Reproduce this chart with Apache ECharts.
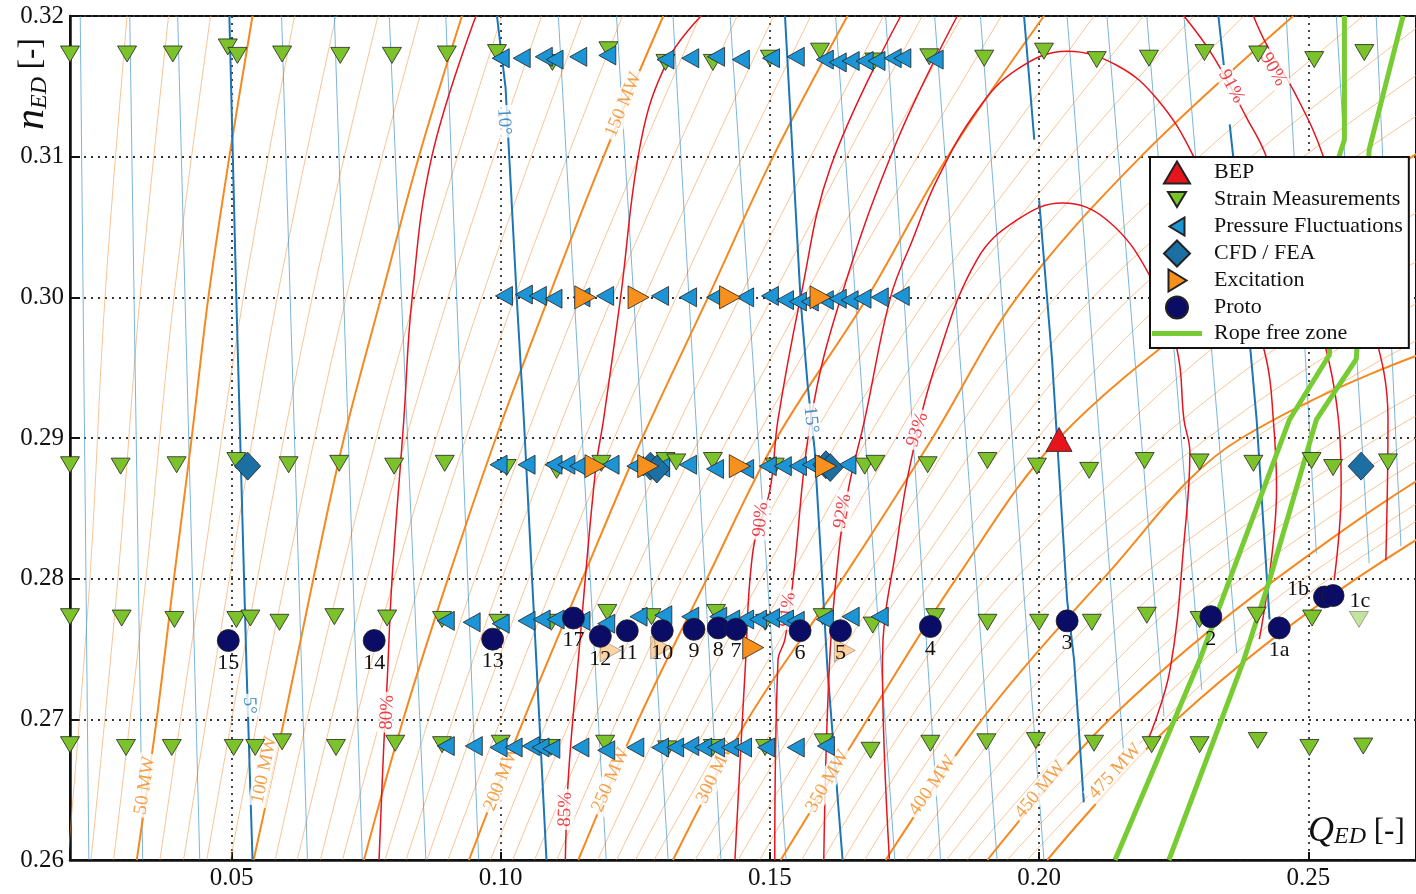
<!DOCTYPE html>
<html><head><meta charset="utf-8">
<script src="https://cdn.jsdelivr.net/npm/echarts@6/dist/echarts.min.js"></script>
<style>html,body{margin:0;padding:0;background:#fff}#c{width:1416px;height:894px}</style>
</head><body><div id="c"></div>
<script>
// ---------- axes ----------
const xTicks = [0.05, 0.10, 0.15, 0.20, 0.25];
const yTicks = [0.26, 0.27, 0.28, 0.29, 0.30, 0.31, 0.32];
const nLevels = [0.26, 0.27, 0.28, 0.29, 0.30, 0.31, 0.32];
const nLevelsThin = [0.26, 0.28, 0.30, 0.32];

// ---------- markers ----------
const strainQ = [
0.0200,0.0306,0.0391,0.0493,0.0511,0.0594,0.0702,0.0798,0.0900,0.0993,0.1096,0.1200,0.1306,0.1394,0.1500,0.1593,0.1694,0.1796,0.1898,0.2009,0.2107,0.2204,0.2307,0.2407,0.2511,0.2604,
0.0200,0.0294,0.0398,0.0509,0.0606,0.0700,0.0802,0.0896,0.1011,0.1104,0.1187,0.1306,0.1326,0.1394,0.1509,0.1676,0.1696,0.1793,0.1904,0.1996,0.2093,0.2196,0.2298,0.2398,0.2506,0.2546,0.2648,
0.0200,0.0296,0.0394,0.0509,0.0535,0.0589,0.0691,0.0789,0.0891,0.0996,0.1094,0.1198,0.1280,0.1400,0.1491,0.1598,0.1691,0.1807,0.1904,0.2000,0.2098,0.2200,0.2298,0.2404,0.2507,
0.0200,0.0304,0.0389,0.0504,0.0544,0.0594,0.0694,0.0804,0.0891,0.1000,0.1093,0.1194,0.1309,0.1394,0.1491,0.1600,0.1687,0.1798,0.1902,0.1994,0.2102,0.2209,0.2298,0.2406,0.2502,0.2602];
const strainN = [
0.3173,0.3173,0.3173,0.3178,0.3172,0.3173,0.3172,0.3172,0.3173,0.3174,0.3167,0.3176,0.3167,0.3167,0.3170,0.3175,0.3168,0.3171,0.3170,0.3175,0.3169,0.3170,0.3174,0.3173,0.3169,0.3174,
0.2881,0.2880,0.2881,0.2884,0.2881,0.2882,0.2880,0.2882,0.2879,0.2877,0.2882,0.2884,0.2883,0.2884,0.2880,0.2880,0.2882,0.2881,0.2884,0.2880,0.2877,0.2884,0.2883,0.2882,0.2884,0.2879,0.2883,
0.2773,0.2772,0.2771,0.2771,0.2772,0.2769,0.2773,0.2772,0.2771,0.2769,0.2769,0.2776,0.2773,0.2776,0.2769,0.2773,0.2767,0.2773,0.2769,0.2769,0.2769,0.2774,0.2771,0.2774,0.2772,
0.2682,0.2680,0.2680,0.2680,0.2680,0.2684,0.2680,0.2683,0.2682,0.2683,0.2680,0.2683,0.2679,0.2680,0.2680,0.2684,0.2678,0.2683,0.2684,0.2685,0.2683,0.2682,0.2682,0.2685,0.2680,0.2681];
const strainFadedQ = [0.2594];
const strainFadedN = [0.2771];

const pressQ = [
0.1000,0.1039,0.1080,0.1100,0.1144,0.1198,0.1306,0.1352,0.1400,0.1446,0.1502,0.1548,0.1602,0.1626,0.1650,0.1676,0.1698,0.1728,0.1746,0.1806,
0.1006,0.1043,0.1069,0.1098,0.1150,0.1194,0.1296,0.1348,0.1398,0.1454,0.1500,0.1528,0.1552,0.1574,0.1602,0.1626,0.1648,0.1672,0.1704,0.1743,
0.0996,0.1048,0.1098,0.1122,0.1144,0.1204,0.1250,0.1280,0.1298,0.1348,0.1398,0.1454,0.1496,0.1524,0.1552,0.1576,0.1644,
0.0898,0.0946,0.1000,0.1048,0.1076,0.1102,0.1150,0.1196,0.1256,0.1302,0.1352,0.1404,0.1428,0.1454,0.1478,0.1502,0.1528,0.1548,0.1602,0.1650,0.1704,
0.0898,0.0950,0.0996,0.1024,0.1056,0.1074,0.1094,0.1148,0.1196,0.1250,0.1296,0.1324,0.1352,0.1376,0.1400,0.1426,0.1450,0.1493,0.1548,0.1604];
const pressN = [
0.3170,0.3170,0.3171,0.3169,0.3171,0.3172,0.3169,0.3170,0.3171,0.3169,0.3170,0.3171,0.3169,0.3167,0.3168,0.3168,0.3168,0.3170,0.3170,0.3169,
0.3001,0.3002,0.3001,0.2999,0.3000,0.3001,0.3001,0.3000,0.3000,0.3000,0.3001,0.2998,0.2997,0.2997,0.2998,0.2999,0.2998,0.2999,0.3000,0.3001,
0.2881,0.2881,0.2881,0.2881,0.2880,0.2881,0.2880,0.2878,0.2879,0.2881,0.2878,0.2878,0.2880,0.2880,0.2880,0.2881,0.2881,
0.2770,0.2769,0.2768,0.2770,0.2771,0.2771,0.2770,0.2768,0.2773,0.2774,0.2773,0.2773,0.2771,0.2771,0.2771,0.2772,0.2771,0.2770,0.2771,0.2773,0.2773,
0.2681,0.2681,0.2680,0.2680,0.2681,0.2680,0.2679,0.2680,0.2678,0.2680,0.2680,0.2680,0.2681,0.2680,0.2680,0.2680,0.2680,0.2680,0.2680,0.2681];

const cfdQ = [0.0530, 0.1278, 0.1290, 0.1604, 0.1612, 0.2598];
const cfdN = [0.2880, 0.2880, 0.2878, 0.2881, 0.2879, 0.2880];

const excQ = [0.1157, 0.1256, 0.1426, 0.1594, 0.1176, 0.1274, 0.1444, 0.1604, 0.1469];
const excN = [0.3000, 0.3000, 0.3000, 0.3000, 0.2880, 0.2880, 0.2880, 0.2880, 0.2751];
const excFadedQ = [0.1204, 0.1298, 0.1639];
const excFadedN = [0.2749, 0.2751, 0.2749];

const protoLabels = ['15','14','13','17','12','11','10','9','8','7','6','5','4','3','2','1a','1b','1c'];
const protoQ = [0.0494,0.0765,0.0985,0.1135,0.1185,0.1235,0.1300,0.1359,0.1404,0.1437,0.1556,0.1631,0.1798,0.2052,0.2319,0.2446,0.2530,0.2546];
const protoN = [0.2756,0.2756,0.2757,0.2772,0.2759,0.2763,0.2763,0.2764,0.2765,0.2764,0.2763,0.2763,0.2766,0.2770,0.2773,0.2765,0.2787,0.2788];

const bepQ = [0.2037];
const bepN = [0.2899];

// ---------- power (MW) contours ----------
const mwLevels = [50, 100, 150, 200, 250, 300, 350, 400, 450, 475];
const mwAt026 = [0.0324,0.0541,0.0746,0.0941,0.1144,0.1320,0.1520,0.1715,0.1904,0.2015];
const mwAt027 = [0.0361,0.0598,0.0819,0.1043,0.1256,0.1459,0.1681,0.1894,0.2131,0.2256];
const mwAt028 = [0.0393,0.0652,0.0902,0.1152,0.1383,0.1635,0.1846,0.2119,0.2441,0.2589];
const mwAt029 = [0.0426,0.0709,0.0991,0.1263,0.1513,0.1802,0.2037,0.2376,0.2837,0.3033];
const mwAt030 = [0.0457,0.0778,0.1089,0.1385,0.1681,0.1959,0.2346,0.2996,0.3404,0.3589];
const mwAt031 = [0.0496,0.0848,0.1191,0.1506,0.1830,0.2189,0.2693,0.3774,0.4144,0.4330];
const mwAt032 = [0.0539,0.0928,0.1302,0.1644,0.2009,0.2472,0.3126,0.4515,0.4885,0.5070];

const hatchMW  = [20,30,40,60,70,80,90,110,120,130,140,160,170,180,190,210,220,230,240,260,270,280,290,310,320,330,340,360,370,380,390,410,420,430,440,460,470];
const hatchQ026 = [0.0196,0.0239,0.0281,0.0367,0.0411,0.0454,0.0498,0.0581,0.0622,0.0665,0.0706,0.0785,0.0824,0.0863,0.0902,0.0981,0.1022,0.1063,0.1104,0.1180,0.1215,0.1250,0.1285,0.1361,0.1400,0.1441,0.1481,0.1559,0.1598,0.1637,0.1676,0.1752,0.1791,0.1828,0.1867,0.1941,0.1978];
const hatchQ028 = [0.0237,0.0289,0.0341,0.0444,0.0496,0.0548,0.0600,0.0702,0.0752,0.0802,0.0852,0.0952,0.1002,0.1052,0.1102,0.1198,0.1244,0.1291,0.1337,0.1433,0.1483,0.1535,0.1585,0.1678,0.1720,0.1761,0.1804,0.1900,0.1956,0.2009,0.2065,0.2183,0.2248,0.2311,0.2376,0.2491,0.2539];
const hatchQ030 = [0.0265,0.0330,0.0393,0.0522,0.0585,0.0650,0.0713,0.0841,0.0902,0.0965,0.1026,0.1148,0.1207,0.1267,0.1326,0.1444,0.1504,0.1563,0.1622,0.1737,0.1793,0.1848,0.1904,0.2030,0.2100,0.2170,0.2241,0.2448,0.2585,0.2722,0.2859,0.3078,0.3159,0.3241,0.3322,0.3465,0.3526];
const hatchQ032 = [0.0306,0.0383,0.0461,0.0617,0.0694,0.0772,0.0850,0.1002,0.1076,0.1152,0.1226,0.1370,0.1439,0.1507,0.1576,0.1711,0.1783,0.1857,0.1930,0.2102,0.2194,0.2287,0.2380,0.2602,0.2731,0.2861,0.2991,0.3404,0.3681,0.3959,0.4237,0.4700,0.4885,0.5070,0.5256,0.5441,0.5626];

// ---------- guide vane opening lines ----------
const gvThinTopQ = [0.0219,0.0311,0.0400,0.0593,0.0691,0.0793,0.0898,0.1107,0.1215,0.1320,0.1426,0.1622,0.1715,0.1806,0.1891,0.2052,0.2126,0.2200,0.2269,0.2459,0.2552,0.2626];
const gvThinEndQ = [0.0235,0.0335,0.0441,0.0641,0.0743,0.0861,0.0959,0.1196,0.1311,0.1409,0.1530,0.1732,0.1817,0.1922,0.2009,0.2157,0.2232,0.2302,0.2367,0.2515,0.2613,0.2672];
const gvThinEndN = [0.26,0.26,0.26,0.26,0.26,0.26,0.26,0.26,0.26,0.26,0.26,0.26,0.26,0.26,0.26,0.2676,0.2702,0.2721,0.2747,0.2818,0.2811,0.2823];

const gv5  = [[0.0496,0.32],[0.0509,0.2998],[0.0528,0.2735],[0.0539,0.26]];
const gv10 = [[0.0993,0.32],[0.1009,0.3149],[0.1030,0.2998],[0.1043,0.2913],[0.1067,0.2735],[0.1085,0.26]];
const gv15 = [[0.1528,0.32],[0.1557,0.2998],[0.1570,0.2938],[0.1583,0.2892],[0.1607,0.2735],[0.1635,0.26]];
const gv20a = [[0.1972,0.32],[0.1991,0.3112]];
const gv20b = [[0.2000,0.3069],[0.2024,0.2956],[0.2052,0.2785],[0.2065,0.2742],[0.2083,0.2641]];
const gv25a = [[0.2333,0.32],[0.2343,0.3165]];
const gv25b = [[0.2354,0.3123],[0.2361,0.3098],[0.2404,0.2913],[0.2428,0.2771]];

// ---------- efficiency contours ----------
const eff80 = [[0.0774,0.26],[0.0783,0.2683],[0.0789,0.2726],[0.0798,0.2799],[0.0820,0.2913],[0.0835,0.2998],[0.0872,0.31],[0.0954,0.32]];
const eff85 = [[0.1120,0.26],[0.1126,0.2661],[0.1144,0.2742],[0.1176,0.2877],[0.1191,0.2913],[0.1222,0.2998],[0.1261,0.3112],[0.1311,0.3169],[0.1372,0.3200]];
const eff90a = [[0.1435,0.26],[0.1454,0.2735],[0.1469,0.2821],[0.1500,0.2863],[0.1515,0.2913],[0.1557,0.3000],[0.1613,0.3093],[0.1743,0.3200]];
const eff90b = [[0.2398,0.32],[0.2422,0.3180],[0.2478,0.3143],[0.2528,0.31],[0.2607,0.2998],[0.2648,0.2913],[0.2644,0.2813]];
const eff91a = [[0.1509,0.26],[0.1515,0.2742],[0.1528,0.2757],[0.1543,0.2799],[0.1576,0.2913],[0.1632,0.3000],[0.1737,0.3112],[0.1848,0.32]];
const eff91b = [[0.2269,0.32],[0.2324,0.3171],[0.2385,0.3128],[0.2422,0.31],[0.2496,0.3013],[0.2556,0.2913],[0.2561,0.2865],[0.2548,0.2799]];
const eff92 = [[0.1600,0.26],[0.1611,0.2742],[0.1630,0.2826],[0.1648,0.2868],[0.1676,0.2913],[0.1724,0.3000],[0.1765,0.3041],[0.1811,0.3084],[0.1885,0.3133],[0.1959,0.3162],[0.2052,0.3175],[0.2144,0.3165],[0.2219,0.3141],[0.2287,0.31],[0.2367,0.3027],[0.2422,0.2956],[0.2435,0.2913],[0.2441,0.2865],[0.2409,0.2757]];
const eff93 = [[0.1722,0.26],[0.1709,0.2742],[0.1737,0.2828],[0.1761,0.2882],[0.1811,0.2956],[0.1885,0.3027],[0.1959,0.3055],[0.2043,0.3067],[0.2126,0.3055],[0.2206,0.3015],[0.2256,0.2963],[0.2269,0.2913],[0.2280,0.2890],[0.2270,0.2830],[0.2243,0.2735],[0.2204,0.2687]];

// ---------- rope free zone ----------
const rope1 = [[0.2141,0.26],[0.2298,0.2742],[0.2335,0.2780],[0.2465,0.2913],[0.2539,0.2959],[0.2557,0.31],[0.2567,0.3112],[0.2567,0.32]];
const rope2 = [[0.2241,0.26],[0.2380,0.2742],[0.2428,0.2799],[0.2515,0.2913],[0.2589,0.2956],[0.2613,0.3105],[0.2676,0.32]];

// ---------- in-line labels ----------
const lblText = ['50 MW','100 MW','150 MW','200 MW','250 MW','300 MW','350 MW','400 MW','450 MW','475 MW','80%','85%','90%','91%','92%','93%','91%','90%','5°','10°','15°'];
const lblQ = [0.0339,0.0561,0.1228,0.1002,0.1204,0.1400,0.1607,0.1802,0.2002,0.2141,0.0789,0.1120,0.1483,0.1533,0.1635,0.1774,0.2357,0.2435,0.0533,0.1006,0.1576];
const lblN = [0.2653,0.2664,0.3137,0.2658,0.2657,0.2663,0.2656,0.2653,0.2650,0.2663,0.2705,0.2636,0.2842,0.2778,0.2848,0.2906,0.3150,0.3162,0.2710,0.3125,0.2913];
const lblRot = [81,78,67,68,66,64,60,55,50,47,88,88,85,83,80,72,-61,-60,-88,-87,-84];
const lblKind = ['mw','mw','mw','mw','mw','mw','mw','mw','mw','mw','eff','eff','eff','eff','eff','eff','eff','eff','gv','gv','gv'];

// ---------- build ----------
const serif = 'Liberation Serif, Times New Roman, serif';
const C = {hatch:'rgba(242,152,70,0.72)', mw:'#f5891f', thinBlue:'rgba(60,145,200,0.85)', gv:'#1c75b5', red:'#e5141d', green:'#77cc33'};
const series = [];
function ln(data, color, width, z, smooth, name) {
  return {type:'line', name: name || undefined, data, symbol:'none', showSymbol:false, smooth: smooth || 0,
    lineStyle:{color, width}, itemStyle:{color}, z, silent:true, clip:true, animation:false, legendHoverLink:false};
}
const thinCols = [hatchQ026, hatchQ028, hatchQ030, hatchQ032];
hatchMW.forEach((mw, i) => {
  series.push(ln(nLevelsThin.map((n, k) => [thinCols[k][i], n]), C.hatch, 0.8, 1, 0.35));
});
gvThinTopQ.forEach((q, i) => {
  series.push(ln([[q, 0.32], [gvThinEndQ[i], gvThinEndN[i]]], C.thinBlue, 0.8, 2, 0));
});
const mwCols = [mwAt026, mwAt027, mwAt028, mwAt029, mwAt030, mwAt031, mwAt032];
mwLevels.forEach((mw, i) => {
  series.push(ln(nLevels.map((n, k) => [mwCols[k][i], n]), C.mw, 2, 3, 0.35));
});
[gv5, gv10, gv15, gv20a, gv20b, gv25a, gv25b].forEach(d => series.push(ln(d, C.gv, 2, 4, 0)));
[eff80, eff85, eff90a, eff90b, eff91a, eff91b, eff92, eff93].forEach(d => series.push(ln(d, C.red, 1.5, 5, 0.4)));
series.push(ln(rope1, C.green, 5, 6, 0, 'Rope free zone'));
series.push(ln(rope2, C.green, 5, 6, 0, 'Rope free zone'));

const lblColor = {mw:'#f08a1e', eff:'#e5141d', gv:'#1c75b5'};
series.push({type:'scatter', silent:true, z:7, symbolSize:1, itemStyle:{color:'rgba(0,0,0,0)'}, animation:false,
  data: lblText.map((t, i) => ({value:[lblQ[i], lblN[i]], label:{show:true, position:'inside', formatter:t, rotate:lblRot[i],
    color: lblColor[lblKind[i]], fontFamily: serif, fontSize: 19, backgroundColor:'#fff', padding:[0,3]}}))});

const border = {borderColor:'#222', borderWidth:0.8, opacity:1};
const triDown = 'path://M0,0 L20,0 L10,17 Z';
const triLeft = 'path://M17,0 L17,20 L0,10 Z';
const triRight = 'path://M0,0 L0,22 L20,11 Z';
const triUp = 'path://M13,0 L26,24 L0,24 Z';
const diamond = 'path://M13,0 L26,14 L13,28 L0,14 Z';
// legend icons drawn inside a fixed 27x27 box (the bare moves set the box)
const icoBEP = 'path://M0,0 M27,27 M0.5,24.5 L26.5,24.5 L13.5,2.5 Z';
const icoStrain = 'path://M0,0 M27,27 M4.5,6 L22.5,6 L13.5,21 Z';
const icoPress = 'path://M0,0 M27,27 M21,4.5 L21,22.5 L6,13.5 Z';
const icoCfd = 'path://M0,0 M27,27 M13.5,0.5 L26.5,13.5 L13.5,26.5 L0.5,13.5 Z';
const icoExc = 'path://M0,0 M27,27 M5,2.5 L5,24.5 L23,13.5 Z';
const icoProto = 'path://M0,0 M27,27 M2.5,13.5 A11,11 0 1 1 24.5,13.5 A11,11 0 1 1 2.5,13.5 Z';
const icoRope = 'path://M0,0 M50,27 M0,11 L50,11 L50,16 L0,16 Z';

series.push({type:'scatter', name:'Strain Measurements', symbol: triDown, symbolSize:[19,16], z:10, animation:false,
  itemStyle:Object.assign({color:'#7cc22a'}, border),
  data: strainQ.map((q, i) => [q, strainN[i]]).concat(strainFadedQ.map((q, i) => ({value:[q, strainFadedN[i]], itemStyle:{opacity:0.45}})))});
series.push({type:'scatter', name:'Pressure Fluctuations', symbol: triLeft, symbolSize:[17,19], z:11, animation:false,
  itemStyle:Object.assign({color:'#1b95d5'}, border),
  data: pressQ.map((q, i) => [q, pressN[i]])});
series.push({type:'scatter', name:'CFD / FEA', symbol: diamond, symbolSize:[26,28], z:12, animation:false,
  itemStyle:Object.assign({color:'#1b6fa3'}, border),
  data: cfdQ.map((q, i) => [q, cfdN[i]])});
series.push({type:'scatter', name:'Excitation', symbol: triRight, symbolSize:[21,23], z:13, animation:false,
  itemStyle:Object.assign({color:'#f7901c'}, border),
  data: excQ.map((q, i) => [q, excN[i]]).concat(excFadedQ.map((q, i) => ({value:[q, excFadedN[i]], itemStyle:{opacity:0.4}})))});
series.push({type:'scatter', name:'Proto', symbol:'circle', symbolSize:22, z:14, animation:false,
  itemStyle:Object.assign({color:'#0a0c66'}, border),
  label:{show:true, position:'bottom', distance:0, fontFamily:serif, fontSize:22, color:'#111', formatter: p => p.name},
  data: protoQ.map((q, i) => {
    const d = {name: protoLabels[i], value:[q, protoN[i]]};
    if (protoLabels[i] === '1b') d.label = {position:'left', distance:4, offset:[0,-8]};
    if (protoLabels[i] === '1c') d.label = {position:'right', distance:5, offset:[0,6]};
    return d;
  })});
series.push({type:'scatter', name:'BEP', symbol: triUp, symbolSize:[26,24], z:15, animation:false,
  itemStyle:Object.assign({color:'#e8141c'}, border),
  data: bepQ.map((q, i) => [q, bepN[i]])});

const axisFont = {fontFamily: serif, fontSize: 25, color:'#111'};
const option = {
  animation:false,
  backgroundColor:'#fff',
  grid:{left:70, right:-4, top:16, bottom:34, show:true, borderColor:'#111', borderWidth:2, backgroundColor:'transparent'},
  xAxis:{type:'value', min:0.02, max:0.27,
    axisLine:{show:true, onZero:false, lineStyle:{color:'#111', width:2.5}},
    axisTick:{show:true, inside:true, length:8, customValues:xTicks, lineStyle:{color:'#111', width:2}},
    axisLabel:Object.assign({customValues:xTicks, margin:6, formatter:v => v.toFixed(2)}, axisFont),
    splitLine:{show:true, lineStyle:{color:'#333', width:1.8, type:[2,5]}}},
  yAxis:{type:'value', min:0.26, max:0.32, interval:0.01,
    axisLine:{show:true, onZero:false, lineStyle:{color:'#111', width:2.5}},
    axisTick:{show:true, inside:true, length:10, lineStyle:{color:'#111', width:2}},
    axisLabel:Object.assign({margin:6, formatter:v => v.toFixed(2)}, axisFont),
    splitLine:{show:true, lineStyle:{color:'#333', width:1.8, type:[2,5]}}},
  legend:{left:1150, top:157, orient:'vertical', selectedMode:false, symbolKeepAspect:true,
    data:[{name:'BEP', icon:icoBEP},{name:'Strain Measurements', icon:icoStrain},{name:'Pressure Fluctuations', icon:icoPress},
          {name:'CFD / FEA', icon:icoCfd},{name:'Excitation', icon:icoExc},{name:'Proto', icon:icoProto},{name:'Rope free zone', icon:icoRope}],
    backgroundColor:'#fff', borderColor:'#111', borderWidth:2, borderRadius:0, padding:[1,6,1,2],
    itemWidth:50, itemHeight:27, itemGap:-2,
    textStyle:{fontFamily:serif, fontSize:22, lineHeight:22, color:'#111', padding:[0,0,0,7]}, z:30},
  graphic:[
    {type:'text', x:32, y:130, rotation:Math.PI/2, z:40,
      style:{text:'{n|n}{s|ED}{b| [-]}', align:'left', verticalAlign:'middle', fill:'#111',
        rich:{n:{fontFamily:serif, fontStyle:'italic', fontSize:42, lineHeight:40},
              s:{fontFamily:serif, fontStyle:'italic', fontSize:24, lineHeight:8, verticalAlign:'bottom'},
              b:{fontFamily:serif, fontSize:31, lineHeight:40}}}},
    {type:'text', x:1308, y:832, z:40,
      style:{text:'{q|Q}{s|ED}{b| [-]}', align:'left', verticalAlign:'middle', fill:'#111',
        rich:{q:{fontFamily:serif, fontStyle:'italic', fontSize:36, lineHeight:34},
              s:{fontFamily:serif, fontStyle:'italic', fontSize:24, lineHeight:8, verticalAlign:'bottom'},
              b:{fontFamily:serif, fontSize:31, lineHeight:34}}}}
  ],
  series
};
const chart = echarts.init(document.getElementById('c'));
chart.setOption(option);
</script>
</body></html>
